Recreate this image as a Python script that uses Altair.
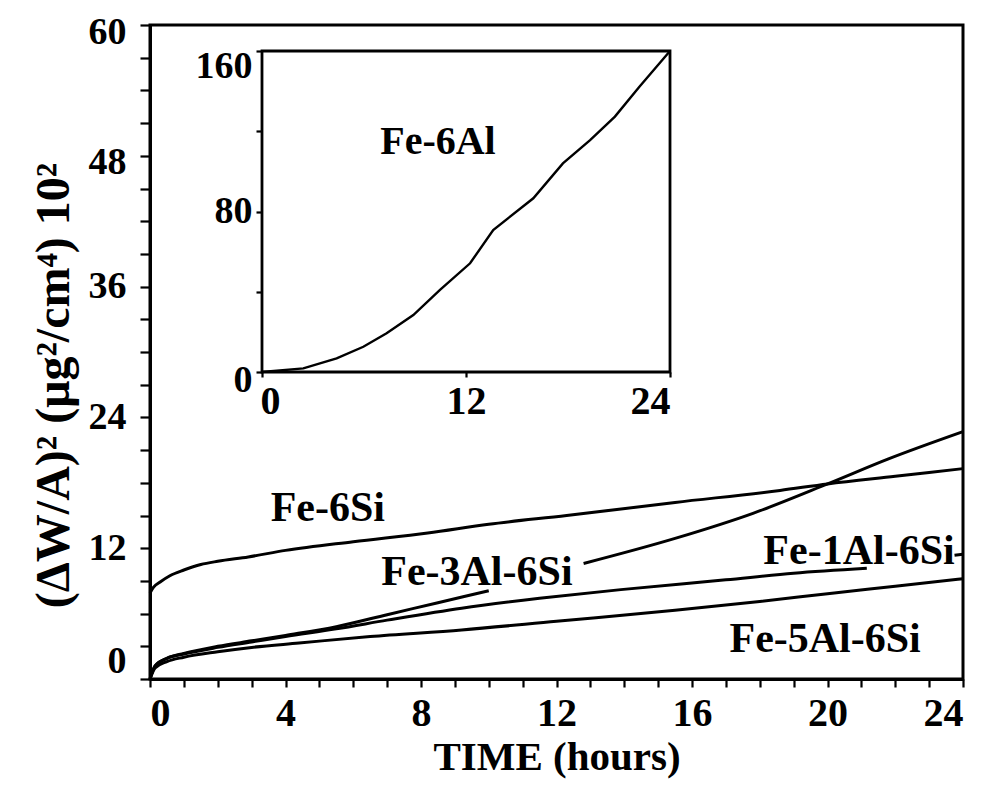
import altair as alt
import pandas as pd

# ---- main plot data (time in hours, (dW/A)^2 in 10^2 ug^2/cm^4) ----
t_6si = [0, 0.1, 0.3, 0.6, 1, 1.5, 2, 2.9, 4, 6, 8.2, 10, 12.3, 15.5, 18.6, 20, 22, 24]
w_6si = [7.9, 8.4, 8.9, 9.5, 10.0, 10.5, 10.8, 11.2, 11.8, 12.6, 13.4, 14.2, 15.0, 16.2, 17.3, 17.9, 18.6, 19.3]

t_3al_a = [0, 0.15, 0.5, 1, 2, 3, 4, 5.5, 7, 8.5, 10.0]
w_3al_a = [0, 1.2, 1.9, 2.35, 3.0, 3.5, 4.0, 4.8, 5.9, 7.0, 8.1]
t_3al_b = [12.8, 15.5, 17.8, 20, 21.8, 24]
w_3al_b = [10.6, 12.9, 15.2, 17.9, 20.2, 22.7]

t_1al_a = [0, 0.15, 0.5, 1, 2, 3, 4, 5.5, 7, 9.2, 11.5, 13.9, 17, 19, 21.16]
w_1al_a = [0, 1.2, 1.9, 2.3, 2.9, 3.4, 3.9, 4.6, 5.4, 6.5, 7.4, 8.2, 9.1, 9.7, 10.15]
t_1al_b = [23.75, 24]
w_1al_b = [11.35, 11.45]

t_5al = [0, 0.15, 0.5, 1, 2, 3, 4.4, 6.5, 9.2, 12, 15.5, 18, 20.2, 22, 24]
w_5al = [0, 1.0, 1.6, 2.0, 2.5, 2.9, 3.3, 3.9, 4.5, 5.3, 6.3, 7.1, 7.9, 8.5, 9.2]

labels = ["Fe-6Si", "Fe-3Al-6Si", "Fe-1Al-6Si", "Fe-5Al-6Si"]
label_t = [5.25, 9.65, 20.93, 19.93]
label_w = [15.7, 9.8, 11.75, 3.67]

# ---- inset data (Fe-6Al) ----
t_6al = [0, 2.43, 4.39, 5.96, 7.33, 8.9, 10.47, 12.24, 13.6, 15.96, 17.7, 19.3, 20.76, 22.2, 24]
w_6al = [0, 1.8, 6.8, 12.6, 19.3, 28.4, 40.9, 54.2, 70.8, 86.6, 104, 115.6, 127.3, 142.2, 160]
inset_label = ["Fe-6Al"]
inset_label_t = [10.35]
inset_label_w = [114.7]

FONT = "Liberation Serif"

rows = []
for key, ts, ws in [("6si", t_6si, w_6si), ("3al_a", t_3al_a, w_3al_a), ("3al_b", t_3al_b, w_3al_b),
                    ("1al_a", t_1al_a, w_1al_a), ("1al_b", t_1al_b, w_1al_b), ("5al", t_5al, w_5al)]:
    for t, w in zip(ts, ws):
        rows.append({"key": key, "t": t, "w": w})
df_main = pd.DataFrame(rows)
df_lab = pd.DataFrame({"t": label_t, "w": label_w, "label": labels})
df_inset = pd.DataFrame({"t": t_6al, "w": w_6al})
df_inset_lab = pd.DataFrame({"t": inset_label_t, "w": inset_label_w, "label": inset_label})
df_box = pd.DataFrame({"t": [0], "t2": [24], "w": [0], "w2": [160]})

xs_main = alt.Scale(domain=[0, 24], nice=False, zero=False)
ys_main = alt.Scale(domain=[0, 60], nice=False, zero=False)
ax_main_x = alt.Axis(values=list(range(25)), labelExpr="datum.value % 4 == 0 ? datum.label : ''",
                     title="TIME (hours)", tickSize=8, labelPadding=6,
                     titleBaseline="alphabetic", titleY=90,
                     labelFontSize=40, titleFontSize=41)
ax_main_y = alt.Axis(values=list(range(0, 61, 3)), labelExpr="datum.value % 12 == 0 ? datum.label : ''",
                     title="(ΔW/A)² (μg²/cm⁴) 10²", tickSize=10, labelPadding=14, titlePadding=10,
                     labelFontSize=38, titleFontSize=48, titleY=360,
                     labelOffset={"condition": [{"test": "datum.value == 60 || datum.value == 48", "value": 7},
                                                {"test": "datum.value == 0", "value": -18}],
                                  "value": 0})

main_lines = alt.Chart(df_main).mark_line(color="black", strokeWidth=3, interpolate="monotone").encode(
    x=alt.X("t:Q", scale=xs_main, axis=ax_main_x),
    y=alt.Y("w:Q", scale=ys_main, axis=ax_main_y),
    detail="key:N",
)
main_text = alt.Chart(df_lab).mark_text(font=FONT, fontWeight="bold", fontSize=42, color="black").encode(
    x=alt.X("t:Q", scale=xs_main, axis=ax_main_x),
    y=alt.Y("w:Q", scale=ys_main, axis=ax_main_y),
    text="label:N",
)
main = alt.layer(main_lines, main_text)

# inset placed via its own independent scales
xs_in = alt.Scale(domain=[-6.588, 41.235], nice=False, zero=False)
ys_in = alt.Scale(domain=[-153.0, 172.96], nice=False, zero=False)
ax_in_x = alt.Axis(orient="bottom", offset=-307, domain=False, values=[0, 12, 24], tickSize=5,
                   labelPadding=4, title=None, labelFontSize=40,
                   labelOffset={"condition": [{"test": "datum.value == 0", "value": 8},
                                              {"test": "datum.value == 24", "value": -20}],
                                "value": 0})
ax_in_y = alt.Axis(orient="left", offset=-112, domain=False, values=[0, 40, 80, 120, 160],
                   labelExpr="datum.value % 80 == 0 ? datum.label : ''", tickSize=6,
                   labelPadding=4, title=None, labelFontSize=38,
                   labelOffset={"condition": [{"test": "datum.value == 160", "value": 15},
                                              {"test": "datum.value == 0", "value": 8}],
                                "value": 0})

inset_box = alt.Chart(df_box).mark_rect(fill="white", stroke="black", strokeWidth=2.8).encode(
    x=alt.X("t:Q", scale=xs_in, axis=ax_in_x),
    x2="t2:Q",
    y=alt.Y("w:Q", scale=ys_in, axis=ax_in_y),
    y2="w2:Q",
)
inset_line = alt.Chart(df_inset).mark_line(color="black", strokeWidth=2.4).encode(
    x=alt.X("t:Q", scale=xs_in, axis=ax_in_x),
    y=alt.Y("w:Q", scale=ys_in, axis=ax_in_y),
)
inset_text = alt.Chart(df_inset_lab).mark_text(font=FONT, fontWeight="bold", fontSize=40, color="black").encode(
    x=alt.X("t:Q", scale=xs_in, axis=ax_in_x),
    y=alt.Y("w:Q", scale=ys_in, axis=ax_in_y),
    text="label:N",
)
inset = alt.layer(inset_box, inset_line, inset_text)

chart = alt.layer(main, inset).resolve_scale(x="independent", y="independent").properties(
    width=813, height=654,
    autosize=alt.AutoSizeParams(type="none"),
    padding={"left": 142, "top": 17, "right": 16, "bottom": 100},
    background="white",
).configure_view(stroke="black", strokeWidth=3).configure_axis(
    grid=False, labelFont=FONT, titleFont=FONT, labelFontWeight="bold", titleFontWeight="bold",
    labelColor="black", titleColor="black", domainColor="black", domainWidth=3,
    tickColor="black", tickWidth=2.2, labelOverlap=False,
)

chart.save("out.html", embed_options={"renderer": "svg", "actions": False})
